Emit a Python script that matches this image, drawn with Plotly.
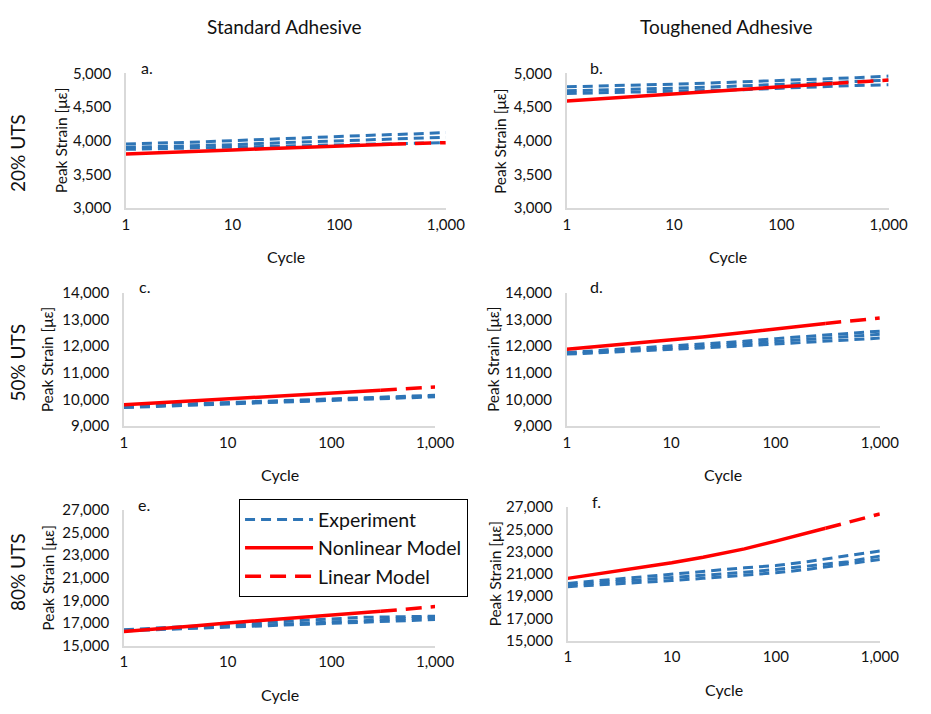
import plotly.graph_objects as go

W, H = 931, 714

# ---------------- data ----------------
exp_cycles = [1, 2, 5, 10, 20, 50, 100, 200, 500, 1000]
nl_cycles = [1, 2, 5, 10, 20, 50, 100, 200, 300]
lin_cycles = [300, 500, 1000]

# a. Standard adhesive, 20% UTS
a_exp1 = [3950, 3960, 3980, 4000, 4020, 4040, 4060, 4080, 4100, 4120]
a_exp2 = [3900, 3910, 3930, 3940, 3960, 3980, 4000, 4020, 4040, 4050]
a_exp3 = [3870, 3880, 3890, 3900, 3910, 3920, 3940, 3950, 3960, 3970]
a_nl = [3800, 3815, 3840, 3860, 3880, 3900, 3920, 3935, 3945]
a_lin = [3945, 3955, 3970]

# b. Toughened adhesive, 20% UTS
b_exp1 = [4800, 4810, 4825, 4840, 4855, 4875, 4895, 4910, 4935, 4960]
b_exp2 = [4740, 4750, 4765, 4780, 4795, 4815, 4835, 4855, 4880, 4900]
b_exp3 = [4700, 4710, 4720, 4730, 4745, 4760, 4780, 4800, 4820, 4830]
b_nl = [4590, 4620, 4660, 4700, 4730, 4760, 4790, 4820, 4850]
b_lin = [4850, 4870, 4900]

# c. Standard adhesive, 50% UTS
c_exp1 = [9750, 9790, 9840, 9880, 9920, 9970, 10020, 10060, 10120, 10160]
c_exp2 = [9700, 9740, 9790, 9830, 9870, 9920, 9960, 10000, 10060, 10100]
c_exp3 = [9720, 9760, 9800, 9840, 9880, 9930, 9980, 10020, 10080, 10130]
c_nl = [9800, 9870, 9950, 10020, 10090, 10180, 10250, 10320, 10350]
c_lin = [10350, 10400, 10470]

# d. Toughened adhesive, 50% UTS
d_exp1 = [11760, 11830, 11920, 11990, 12070, 12180, 12280, 12370, 12480, 12560]
d_exp2 = [11720, 11780, 11860, 11920, 11990, 12090, 12170, 12250, 12370, 12440]
d_exp3 = [11700, 11750, 11820, 11870, 11930, 12010, 12080, 12150, 12240, 12300]
d_nl = [11880, 11980, 12110, 12220, 12340, 12510, 12650, 12780, 12850]
d_lin = [12850, 12930, 13050]

# e. Standard adhesive, 80% UTS
e_exp1 = [16400, 16550, 16750, 16900, 17050, 17250, 17400, 17500, 17560, 17600]
e_exp2 = [16350, 16450, 16600, 16700, 16800, 16950, 17100, 17200, 17400, 17500]
e_exp3 = [16300, 16400, 16520, 16600, 16700, 16850, 16950, 17050, 17200, 17300]
e_nl = [16250, 16450, 16750, 17000, 17200, 17450, 17650, 17900, 18030]
e_lin = [18030, 18200, 18450]

# f. Toughened adhesive, 80% UTS
f_exp1 = [20150, 20400, 20700, 20950, 21250, 21550, 21750, 22100, 22650, 23050]
f_exp2 = [20000, 20200, 20450, 20650, 20850, 21150, 21400, 21700, 22100, 22600]
f_exp3 = [19850, 20000, 20200, 20400, 20600, 20850, 21100, 21400, 21900, 22300]
f_nl = [20600, 21000, 21550, 22000, 22500, 23250, 23950, 24700, 25100]
f_lin = [25100, 25660, 26390]

x_tickvals = [1, 10, 100, 1000]
x_ticktext = ["1", "10", "100", "1,000"]

y_ranges = {
    "a": (3000, 5000, 500), "b": (3000, 5000, 500),
    "c": (9000, 14000, 1000), "d": (9000, 14000, 1000),
    "e": (15000, 27000, 2000), "f": (15000, 27000, 2000),
}
panel_data = {
    "a": ([a_exp1, a_exp2, a_exp3], a_nl, a_lin),
    "b": ([b_exp1, b_exp2, b_exp3], b_nl, b_lin),
    "c": ([c_exp1, c_exp2, c_exp3], c_nl, c_lin),
    "d": ([d_exp1, d_exp2, d_exp3], d_nl, d_lin),
    "e": ([e_exp1, e_exp2, e_exp3], e_nl, e_lin),
    "f": ([f_exp1, f_exp2, f_exp3], f_nl, f_lin),
}
series_names = ["Experiment", "Nonlinear Model", "Linear Model"]
col_titles = ["Standard Adhesive", "Toughened Adhesive"]
row_titles = ["20% UTS", "50% UTS", "80% UTS"]

# ---------------- layout (pixels) ----------------
# panel: (x0, x1, ytop, ybottom)
boxes = {
    "a": (125, 453, 65, 203),
    "b": (577, 907, 65, 203),
    "c": (123, 442, 290, 427),
    "d": (577, 898, 290, 427),
    "e": (123, 442, 513, 652),
    "f": (578, 898, 510, 647),
}
ytitle_x = {"a": 58, "b": 508, "c": 45, "d": 502, "e": 45, "f": 503}
letter_x = {"a": 147, "b": 608, "c": 144, "d": 608, "e": 144, "f": 607}

BLUE = "#2E75B6"
RED = "#FF0000"
FONT = "Lato"
TXT = "#111111"

def px(x):
    return x / W

def py(y):
    return 1 - y / H

fig = go.Figure()
annotations = []
layout_axes = {}

for i, key in enumerate(["a", "b", "c", "d", "e", "f"]):
    n = i + 1
    xa = "x" if n == 1 else f"x{n}"
    ya = "y" if n == 1 else f"y{n}"
    exps, nl, lin = panel_data[key]
    first = (key == "a")
    for j, ex in enumerate(exps):
        fig.add_trace(go.Scatter(
            x=exp_cycles, y=ex, mode="lines", xaxis=xa, yaxis=ya,
            line=dict(color=BLUE, width=3, dash="10px,6px"),
            name=series_names[0], legendgroup="exp",
            showlegend=(first and j == 0)))
    fig.add_trace(go.Scatter(
        x=nl_cycles, y=nl, mode="lines", xaxis=xa, yaxis=ya,
        line=dict(color=RED, width=3.5),
        name=series_names[1], legendgroup="nl", showlegend=first))
    fig.add_trace(go.Scatter(
        x=lin_cycles, y=lin, mode="lines", xaxis=xa, yaxis=ya,
        line=dict(color=RED, width=3.5, dash="16px,9px"),
        name=series_names[2], legendgroup="lin", showlegend=first))

    x0, x1, yt, yb = boxes[key]
    lo, hi, dt = y_ranges[key]
    xname = "xaxis" if n == 1 else f"xaxis{n}"
    yname = "yaxis" if n == 1 else f"yaxis{n}"
    layout_axes[xname] = dict(
        domain=[px(x0), px(x1)], anchor=ya, type="log", range=[0, 3],
        tickvals=x_tickvals, ticktext=x_ticktext,
        showline=True, linecolor="#d9d9d9", linewidth=1.5,
        showgrid=False, zeroline=False, ticks="",
        ticklabelstandoff=2,
        tickfont=dict(family=FONT, size=15, color=TXT))
    layout_axes[yname] = dict(
        domain=[py(yb), py(yt)], anchor=xa, range=[lo, hi], dtick=dt,
        tick0=lo, tickformat=",",
        showline=True, linecolor="#d9d9d9", linewidth=1.5,
        showgrid=False, zeroline=False, ticks="",
        ticklabelstandoff=10,
        tickfont=dict(family=FONT, size=15, color=TXT))

    # axis titles
    annotations.append(dict(
        text="Cycle", x=px((x0 + x1) / 2), y=py(yb + 50),
        xref="paper", yref="paper", showarrow=False,
        xanchor="center", yanchor="middle",
        font=dict(family=FONT, size=16, color=TXT)))
    annotations.append(dict(
        text="Peak Strain [\u03bc\u03b5]", x=px(ytitle_x[key]),
        y=py((yt + yb) / 2), xref="paper", yref="paper",
        showarrow=False, textangle=-90, xanchor="center", yanchor="middle",
        font=dict(family=FONT, size=15.5, color=TXT)))
    # panel letter
    annotations.append(dict(
        text=key + ".", x=px(letter_x[key]), y=py(yt - 6),
        xref="paper", yref="paper", showarrow=False,
        xanchor="center", yanchor="middle",
        font=dict(family=FONT, size=16, color=TXT)))

# column and row titles
for t, cx in zip(col_titles, [288, 741]):
    annotations.append(dict(
        text=t, x=px(cx), y=py(17), xref="paper", yref="paper",
        showarrow=False, xanchor="center", yanchor="middle",
        font=dict(family=FONT, size=19, color=TXT)))
for t, cy in zip(row_titles, [147, 362, 577]):
    annotations.append(dict(
        text=t, x=px(14), y=py(cy), xref="paper", yref="paper",
        showarrow=False, textangle=-90, xanchor="center", yanchor="middle",
        font=dict(family=FONT, size=19, color=TXT)))

fig.update_layout(
    width=W, height=H, margin=dict(l=0, r=0, t=0, b=0),
    paper_bgcolor="white", plot_bgcolor="white",
    annotations=annotations,
    legend=dict(
        x=px(241), y=py(502), xanchor="left", yanchor="top",
        bgcolor="white", bordercolor="black", borderwidth=1,
        font=dict(family=FONT, size=19.5, color=TXT),
        itemwidth=68, tracegroupgap=0),
    **layout_axes)

fig.write_html("out.html")
